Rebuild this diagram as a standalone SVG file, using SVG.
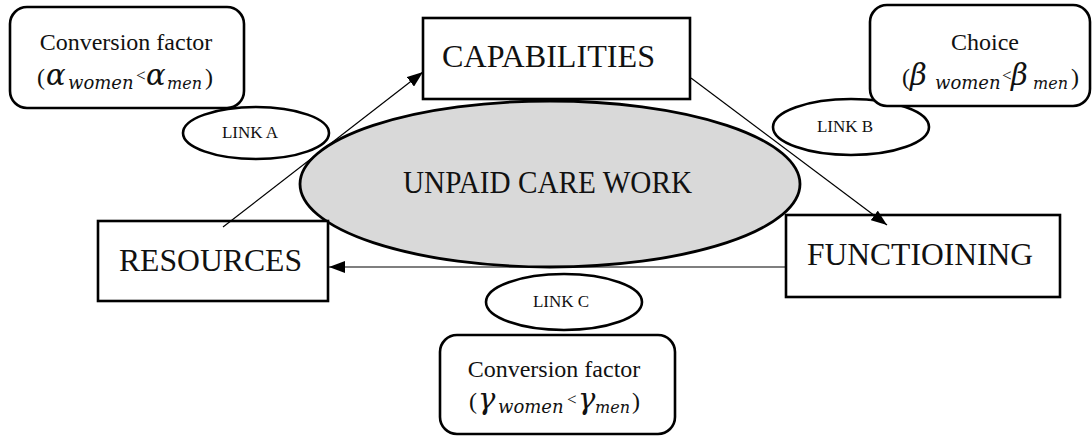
<svg xmlns="http://www.w3.org/2000/svg" width="1092" height="436" viewBox="0 0 1092 436">
  <style>
    .bg { fill: #ffffff; }
    .box { fill: #ffffff; stroke: #000000; stroke-width: 2.6; }
    .oval { fill: #ffffff; stroke: #000000; stroke-width: 2.6; }
    .core { fill: #d9d9d9; stroke: #000000; stroke-width: 2.8; }
    .edge { fill: none; stroke: #000000; stroke-width: 1.2; }
    .big { font-family: "Liberation Serif", "Times New Roman", serif; font-size: 31px; fill: #111111; }
    .mid { font-family: "Liberation Serif", "Times New Roman", serif; font-size: 24px; fill: #111111; }
    .small { font-family: "Liberation Serif", "Times New Roman", serif; font-size: 17px; fill: #111111; }
    .greek { font-family: "DejaVu Serif", "Liberation Serif", serif; font-style: italic; font-size: 29px; }
    .sub { font-family: "DejaVu Serif", "Liberation Serif", serif; font-style: italic; font-size: 18px; }
    .sub2 { font-family: "DejaVu Serif", "Liberation Serif", serif; font-style: italic; font-size: 16px; }
    .lt { font-family: "Liberation Serif", "Times New Roman", serif; font-size: 17px; }
  </style>
  <defs>
    <marker id="head" viewBox="0 0 16 12" refX="16" refY="6" markerWidth="16" markerHeight="12" markerUnits="userSpaceOnUse" orient="auto">
      <path d="M0,0 L16,6 L0,12 Z" fill="#000000"/>
    </marker>
  </defs>

  <rect class="bg" x="0" y="0" width="1092" height="436"/>

  <!-- link labels -->
  <g id="link-a">
    <ellipse class="oval" cx="256" cy="133" rx="73" ry="26"/>
    <text class="small" x="250" y="138" text-anchor="middle">LINK A</text>
  </g>
  <g id="link-b">
    <ellipse class="oval" cx="851" cy="127" rx="78" ry="28"/>
    <text class="small" x="845" y="132" text-anchor="middle">LINK B</text>
  </g>
  <g id="link-c">
    <ellipse class="oval" cx="564" cy="302" rx="78" ry="28"/>
    <text class="small" x="561" y="307" text-anchor="middle">LINK C</text>
  </g>

  <!-- central ellipse -->
  <g id="unpaid-care-work">
    <ellipse class="core" cx="550" cy="184" rx="250" ry="83"/>
    <text class="big" x="403" y="193" font-size="29" textLength="289" lengthAdjust="spacingAndGlyphs">UNPAID CARE WORK</text>
  </g>

  <!-- main stages -->
  <g id="capabilities">
    <rect class="box" x="423" y="18" width="267" height="81"/>
    <text class="big" x="442" y="67" textLength="213" lengthAdjust="spacingAndGlyphs">CAPABILITIES</text>
  </g>
  <g id="resources">
    <rect class="box" x="98" y="221" width="230" height="80"/>
    <text class="big" x="119" y="271" textLength="183" lengthAdjust="spacingAndGlyphs">RESOURCES</text>
  </g>
  <g id="functioning">
    <rect class="box" x="786" y="215" width="274" height="82"/>
    <text class="big" x="807" y="265" textLength="226" lengthAdjust="spacingAndGlyphs">FUNCTIOINING</text>
  </g>

  <!-- factor notes: each inequality is one text run -->
  <g id="conversion-alpha">
    <rect class="box" x="10" y="7" width="234" height="101" rx="17" ry="17"/>
    <text class="mid" x="126" y="50" text-anchor="middle">Conversion factor</text>
    <text class="mid" y="85"><tspan x="37">(</tspan><tspan class="greek" x="46">α</tspan><tspan class="sub" x="68" y="89">women</tspan><tspan class="lt" x="136" y="81">&lt;</tspan><tspan class="greek" x="146" y="85">α</tspan><tspan class="sub2" x="167" y="89">men</tspan><tspan x="205" y="85">)</tspan></text>
  </g>
  <g id="choice-beta">
    <rect class="box" x="870" y="5" width="220" height="101" rx="17" ry="17"/>
    <text class="mid" x="985" y="50" text-anchor="middle">Choice</text>
    <text class="mid" y="85"><tspan x="902">(</tspan><tspan class="greek" x="910">β</tspan><tspan class="sub" x="935" y="89">women</tspan><tspan class="lt" x="1002" y="81">&lt;</tspan><tspan class="greek" x="1011" y="85">β</tspan><tspan class="sub2" x="1033" y="89">men</tspan><tspan x="1071" y="85">)</tspan></text>
  </g>
  <g id="conversion-gamma">
    <rect class="box" x="440" y="335" width="235" height="99" rx="17" ry="17"/>
    <text class="mid" x="554" y="377" text-anchor="middle">Conversion factor</text>
    <text class="mid" y="409"><tspan x="469">(</tspan><tspan class="greek" x="478">γ</tspan><tspan class="sub" x="498" y="413">women</tspan><tspan class="lt" x="567" y="405">&lt;</tspan><tspan class="greek" x="578" y="409">γ</tspan><tspan class="sub2" x="595" y="413">men</tspan><tspan x="632" y="409">)</tspan></text>
  </g>

  <!-- connectors -->
  <g id="connectors">
    <line class="edge" x1="223" y1="227" x2="423" y2="72" marker-end="url(#head)"/>
    <line class="edge" x1="691" y1="78" x2="887" y2="225" marker-end="url(#head)"/>
    <line class="edge" x1="786" y1="267" x2="329" y2="267" marker-end="url(#head)"/>
  </g>
</svg>
